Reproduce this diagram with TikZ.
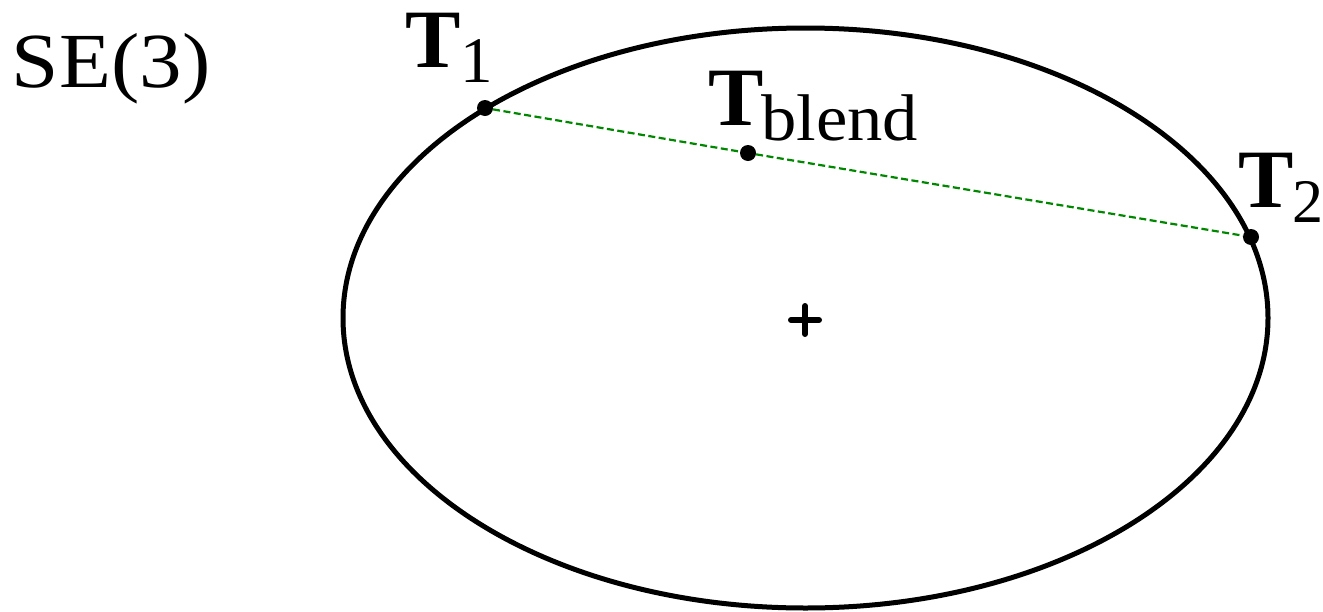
\documentclass[tikz,border=0pt]{standalone}
\usepackage{fontspec}
\setmainfont{Liberation Serif}
\usepackage{graphicx}
\definecolor{dashgreen}{RGB}{0,135,0}
\newcommand{\bigT}{{\fontsize{83}{83}\selectfont\bfseries T}}
\newcommand{\subtxt}[2]{\raisebox{-15pt}{\fontsize{#1}{#1}\selectfont #2}}
\begin{document}
\begin{tikzpicture}[x=1pt,y=-1pt,
  lbl/.style={inner sep=0pt,outer sep=0pt,anchor=base west},
  dot/.style={circle,fill=black,inner sep=0pt,minimum size=16pt},
  chord/.style={dashgreen,line width=2.2pt,dash pattern=on 7pt off 3.5pt}]
\useasboundingbox (0,0) rectangle (1323,611);
% space
\draw[line width=5pt] (805.5,318) ellipse [x radius=462.5, y radius=290];
% centre mark
\draw[line width=6pt,line cap=round] (791,320) -- (819,320) (805,306) -- (805,334);
% points
\node[dot] (t1) at (485,108) {};
\node[dot] (t2) at (1251,237) {};
\node[dot] (tb) at (748,153) {};
\draw[chord] (t1) -- (tb) -- (t2);
% labels
\node[lbl] (se) at (12,87) {\scalebox{1.09}[1]{\fontsize{78}{78}\selectfont SE(3)}};
\node[lbl] (t1l) at (405,67) {\bigT\kern0pt\subtxt{65}{1}};
\node[lbl] (tbl) at (708,125) {\bigT\kern-2pt\subtxt{66}{\scalebox{1.07}[1]{blend}}};
\node[lbl] (t2l) at (1238,207) {\bigT\kern-1pt\subtxt{62}{2}};
\end{tikzpicture}
\end{document}
